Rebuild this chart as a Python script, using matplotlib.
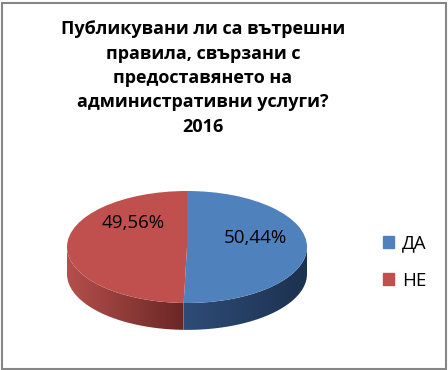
import numpy as np
import matplotlib.pyplot as plt
from matplotlib.patches import Polygon, Patch, Rectangle
from matplotlib.colors import LinearSegmentedColormap

plt.rcParams['font.family'] = ['Open Sans', 'DejaVu Sans']

# данни
title = 'Публикувани ли са вътрешни\nправила, свързани с\nпредоставянето на\nадминистративни услуги?\n2016'
labels = ['ДА', 'НЕ']
values = [50.44, 49.56]
top_colors = ['#4F81BD', '#C0504D']
side_colors = [('#2E4C76', '#1D3150'), ('#B44F4C', '#6A2725')]  # (ляво, дясно)
label_pos = [(0.57, 0.16), (-0.45, 0.43)]

W, H = 448, 370
fig = plt.figure(figsize=(W / 100, H / 100), dpi=100)

# оста на кръговата диаграма: 120 px на единица по x, 56 px по y
sx, sy = 120, 56
cx, cy = 187, 247
depth = 0.48
xl = (-1.25, 1.25)
yl = (-1.25 - depth, 1.25)
ax = fig.add_axes([(cx + xl[0] * sx) / W, (H - cy + yl[0] * sy) / H,
                   (xl[1] - xl[0]) * sx / W, (yl[1] - yl[0]) * sy / H])

wedges, texts, autotexts = ax.pie(
    values, colors=top_colors, startangle=90, counterclock=False,
    autopct=lambda p: f'{p:.2f}%'.replace('.', ','),
    wedgeprops=dict(linewidth=0), textprops=dict(fontsize=13.5, color='black'))
for w in wedges:
    w.set_zorder(3)
for t, pos in zip(autotexts, label_pos):
    t.set_position(pos)
    t.set_zorder(5)

# страничните стени (видимата предна половина)
for w, (c_left, c_right) in zip(wedges, side_colors):
    t1 = max(w.theta1, -180)
    t2 = min(w.theta2, 0)
    if t2 <= t1:
        continue
    th = np.radians(np.linspace(t1, t2, 100))
    xs = np.cos(th)
    ys = np.sin(th)
    pts = np.concatenate([np.column_stack([xs, ys]),
                          np.column_stack([xs[::-1], ys[::-1] - depth])])
    poly = Polygon(pts, closed=True, facecolor='none', edgecolor='none')
    ax.add_patch(poly)
    cmap = LinearSegmentedColormap.from_list('side', [c_left, c_right])
    grad = np.linspace(0, 1, 256).reshape(1, -1)
    im = ax.imshow(grad, cmap=cmap, aspect='auto', zorder=2,
                   extent=[xs.min(), xs.max(), -1 - depth, 0])
    im.set_clip_path(poly)

ax.set_aspect('auto')
ax.set_xlim(xl)
ax.set_ylim(yl)
ax.axis('off')

fig.text(203 / W, 1 - 78 / H, title, ha='center', va='center',
         fontsize=13, fontweight='bold', linespacing=1.45)

fig.legend(handles=[Patch(color=c) for c in top_colors], labels=labels,
           loc='center left', bbox_to_anchor=(366 / W, 1 - 262 / H),
           frameon=False, handlelength=0.6, handleheight=0.6,
           labelspacing=1.05, fontsize=13.5, handletextpad=0.4)

fig.patches.append(Rectangle((1.5 / W, 1.5 / H), 1 - 4 / W, 1 - 4 / H,
                             transform=fig.transFigure, fill=False,
                             edgecolor='#868686', linewidth=1.5))

fig.savefig('out.png', dpi=100)
